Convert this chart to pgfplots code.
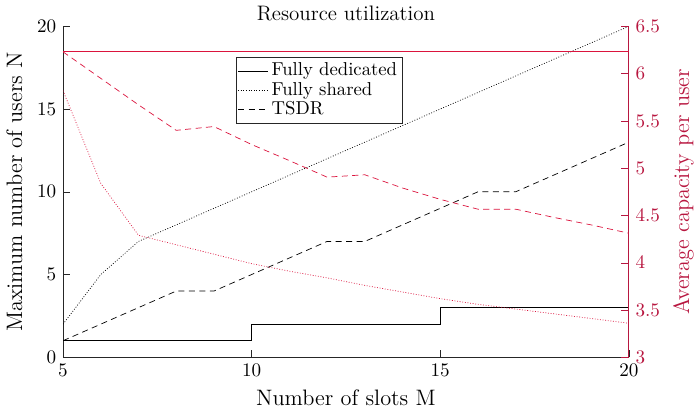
\documentclass[border=0pt,11pt]{standalone}
\usepackage{pgfplots}
\pgfplotsset{compat=1.18}
\definecolor{crim}{rgb}{0.86,0.08,0.24}
\definecolor{crimax}{rgb}{0.72,0.09,0.25}
\definecolor{axgray}{gray}{0.15}
\begin{document}
\begin{tikzpicture}
\begin{axis}[
  scale only axis, width=324pt, height=189.5pt,
  xmin=5, xmax=20, ymin=0, ymax=20,
  axis x line*=bottom, axis y line*=left,
  axis line style={axgray,-},
  xtick={5,10,15,20}, ytick={0,5,10,15,20},
  tick style={axgray},
  xlabel={Number of slots M}, ylabel={Maximum number of users N},
  label style={font=\fontsize{12.8}{15}\selectfont},
  ylabel style={yshift=1pt},
  title={Resource utilization},
  title style={yshift=-7pt, font=\fontsize{12}{14}\selectfont},
  legend style={at={(0.305,0.906)}, anchor=north west, draw=axgray, inner sep=1pt, row sep=-2pt, font=\fontsize{10.7}{13}\selectfont},
  legend cell align=left,
]
\addplot[black, thin, const plot] coordinates {(5,1)(6,1)(7,1)(8,1)(9,1)(10,2)(11,2)(12,2)(13,2)(14,2)(15,3)(16,3)(17,3)(18,3)(19,3)(20,4)};
\addlegendentry{Fully dedicated}
\addplot[black, thin, dash pattern=on 0.5pt off 1pt] coordinates {(5,2)(6,5)(7,7)(8,8)(9,9)(10,10)(11,11)(12,12)(13,13)(14,14)(15,15)(16,16)(17,17)(18,18)(19,19)(20,20)};
\addlegendentry{Fully shared}
\addplot[black, thin, dash pattern=on 3.5pt off 2.5pt] coordinates {(5,1)(6,2)(7,3)(8,4)(9,4)(10,5)(11,6)(12,7)(13,7)(14,8)(15,9)(16,10)(17,10)(18,11)(19,12)(20,13)};
\addlegendentry{TSDR}
\end{axis}
\begin{axis}[
  scale only axis, width=324pt, height=189.5pt,
  xmin=5, xmax=20, ymin=3, ymax=6.5,
  axis x line=none, axis y line*=right,
  axis line style={crimax,-},
  ytick={3,3.5,4,4.5,5,5.5,6,6.5},
  tick style={crimax},
  yticklabel style={crimax},
  ylabel style={crimax, font=\fontsize{12.8}{15}\selectfont},
  ylabel={Average capacity per user},
]
\addplot[crim, line width=0.8pt] coordinates {(5,6.232)(20,6.232)};
\addplot[crim, thin, dash pattern=on 3.5pt off 2.5pt] coordinates {(5,6.23)(6,5.95)(7,5.67)(8,5.40)(9,5.44)(10,5.25)(11,5.08)(12,4.905)(13,4.93)(14,4.79)(15,4.67)(16,4.566)(17,4.566)(18,4.48)(19,4.40)(20,4.312)};
\addplot[crim, thin, dash pattern=on 0.5pt off 1pt] coordinates {(5,5.82)(6,4.84)(7,4.29)(8,4.19)(9,4.09)(10,3.99)(11,3.91)(12,3.84)(13,3.76)(14,3.69)(15,3.62)(16,3.56)(17,3.51)(18,3.46)(19,3.41)(20,3.36)};
\end{axis}
\end{tikzpicture}
\end{document}
